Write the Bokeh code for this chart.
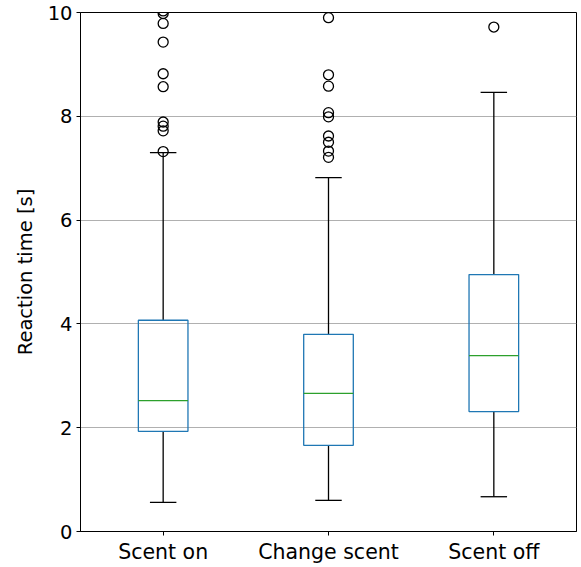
from bokeh.plotting import figure
from bokeh.embed import file_html
from bokeh.resources import INLINE
from bokeh.models import FixedTicker

categories = ["Scent on", "Change scent", "Scent off"]
q1 = [1.93, 1.66, 2.31]
median = [2.52, 2.66, 3.39]
q3 = [4.07, 3.80, 4.95]
whisk_lo = [0.56, 0.60, 0.67]
whisk_hi = [7.30, 6.82, 8.46]
outliers = [
    [10.03, 9.98, 9.79, 9.43, 8.82, 8.57, 7.89, 7.81, 7.72, 7.32],
    [9.90, 8.80, 8.58, 8.07, 7.99, 7.62, 7.50, 7.33, 7.21],
    [9.72],
]

xs = [1, 2, 3]
box_w = 0.30
cap_w = 0.16

p = figure(width=581, height=567, output_backend="svg", toolbar_location=None,
           x_range=(0.5, 3.5), y_range=(0, 10),
           min_border_left=80, min_border_right=5, min_border_top=12, min_border_bottom=36)
p.outline_line_color = "black"
p.outline_line_alpha = 1
p.background_fill_color = "white"
p.border_fill_color = "white"

p.xgrid.grid_line_color = None
p.ygrid.grid_line_color = "#b0b0b0"
p.ygrid.grid_line_width = 1

for ax in (p.xaxis, p.yaxis):
    ax.axis_line_color = "black"
    ax.major_tick_line_color = "black"
    ax.major_tick_out = 4
    ax.major_tick_in = 0
    ax.minor_tick_line_color = None
    ax.major_label_text_font = "DejaVu Sans"
    ax.major_label_text_color = "black"
    ax.major_label_standoff = 4

p.yaxis.major_label_text_font_size = "19.5px"
p.xaxis.major_label_text_font_size = "20.5px"

p.yaxis.ticker = FixedTicker(ticks=[0, 2, 4, 6, 8, 10])
p.xaxis.ticker = FixedTicker(ticks=xs)
p.xaxis.major_label_overrides = {x: c for x, c in zip(xs, categories)}
p.yaxis.axis_label = "Reaction time [s]"
p.yaxis.axis_label_text_font = "DejaVu Sans"
p.yaxis.axis_label_text_font_style = "normal"
p.yaxis.axis_label_text_font_size = "19.5px"
p.yaxis.axis_label_text_color = "black"
p.yaxis.axis_label_standoff = 8

# whiskers
p.segment(x0=xs, y0=q3, x1=xs, y1=whisk_hi, line_color="black", line_width=1.3)
p.segment(x0=xs, y0=whisk_lo, x1=xs, y1=q1, line_color="black", line_width=1.3)
# caps
p.segment(x0=[x - cap_w / 2 for x in xs], y0=whisk_hi, x1=[x + cap_w / 2 for x in xs], y1=whisk_hi,
          line_color="black", line_width=1.3)
p.segment(x0=[x - cap_w / 2 for x in xs], y0=whisk_lo, x1=[x + cap_w / 2 for x in xs], y1=whisk_lo,
          line_color="black", line_width=1.3)
# boxes
p.quad(left=[x - box_w / 2 for x in xs], right=[x + box_w / 2 for x in xs], bottom=q1, top=q3,
       fill_color=None, line_color="#1f77b4", line_width=1.3)
# medians
p.segment(x0=[x - box_w / 2 for x in xs], y0=median, x1=[x + box_w / 2 for x in xs], y1=median,
          line_color="#2ca02c", line_width=1.3)
# outliers
ox, oy = [], []
for x, outs in zip(xs, outliers):
    for v in outs:
        ox.append(x)
        oy.append(v)
p.scatter(x=ox, y=oy, marker="circle", size=10, fill_color=None, line_color="black", line_width=1.3)

open("out.html", "w").write(file_html(p, INLINE))
